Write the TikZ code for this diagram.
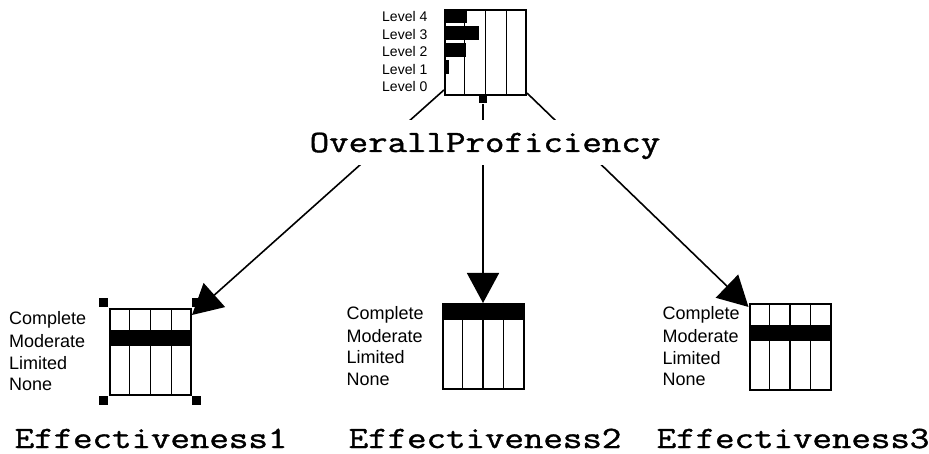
\documentclass[tikz,border=0pt]{standalone}
\usepackage{fontspec}
\setmainfont{Liberation Sans}
\newfontfamily\titlefont{Latin Modern Mono}[FakeBold=1.2]
\usetikzlibrary{arrows.meta,calc,positioning}
\newcommand{\nodeTitle}[1]{\scalebox{1.22}[1]{#1}}
\begin{document}
\begin{tikzpicture}[x=1pt,y=-1pt,>={Triangle[length=30pt,width=32pt]}]

    \tikzstyle{beliefBox}=[draw=black, line width=2pt, rectangle, inner sep=0pt, minimum width=81pt, minimum height=85pt]
    \tikzstyle{gridLine}=[line width=1.2pt]
    \tikzstyle{bar}=[fill=black]
    \tikzstyle{stateLabel}=[anchor=west, inner sep=0pt, font=\fontsize{18}{18}\selectfont]
    \tikzstyle{levelLabel}=[anchor=west, inner sep=0pt, font=\fontsize{14}{14}\selectfont]
    \tikzstyle{nodeName}=[anchor=base, inner sep=0pt, font=\fontsize{31}{31}\selectfont\titlefont]
    \tikzstyle{handle}=[fill=black, inner sep=0pt, minimum size=9pt]
    \tikzstyle{link}=[<-, line width=1.6pt]

    \useasboundingbox (0,0) rectangle (929,454);

    % Belief boxes
    \node at (485.5,53) [beliefBox] (Prof) {};
    \node at (483,100) [fill=black, inner sep=0pt, minimum width=8pt, minimum height=7pt] (ProfOut) {};
    \node at (150.5,352) [beliefBox] (EffA) {};
    \node at (483,346.5) [beliefBox] (EffB) {};
    \node at (790,347) [beliefBox] (EffC) {};

    % Grid lines
    \foreach \b in {Prof,EffA,EffB,EffC}
        \foreach \f in {0.25,0.5,0.75}
            \draw [gridLine] ($(\b.north west)!\f!(\b.north east)$) -- ($(\b.south west)!\f!(\b.south east)$);

    % Bars
    \foreach \w [count=\i from 0] in {23,35,22,5}
        \fill [bar] ($(Prof.north west)+(0,17*\i)$) rectangle ++(\w,14);
    \fill [bar] ($(EffA.north west)+(0,21.5)$) rectangle ++(81,16);
    \fill [bar] (EffB.north west) rectangle ++(81,17);
    \fill [bar] ($(EffC.north west)+(0,21.5)$) rectangle ++(81,16);

    % State labels
    \foreach \s [count=\i from 0] in {4,3,2,1,0}
        \node [levelLabel] (Lvl\s) at ($(Prof.north west)+(-62,7+17.5*\i)$) {Level \s};
    \foreach \b/\off in {EffA/100,EffB/95,EffC/86}
        \foreach \s [count=\i from 0] in {Complete,Moderate,Limited,None}
            \node [stateLabel] (\b-\s) at ($(\b.north west)+(-\off,11.5+21.5*\i)$) {\s};

    % Selection handles
    \node [handle, anchor=south east] (hNW) at ($(EffA.north west)+(-1,-1)$) {};
    \node [handle, anchor=south west] (hNE) at ($(EffA.north east)+(0,-1)$) {};
    \node [handle, anchor=north east] (hSW) at ($(EffA.south west)+(-1,0.5)$) {};
    \node [handle, anchor=north west] (hSE) at ($(EffA.south east)+(0,0.5)$) {};

    % Links
    \draw [link] (EffA) -- (Prof);
    \draw [link] (EffB) -- (ProfOut);
    \draw [link] (EffC) -- (Prof);

    % Names
    \node [nodeName, fill=white, text height=32pt, text depth=13pt] (ProfName) at (485,152) {\nodeTitle{OverallProficiency}};
    \node [nodeName] (EffAName) at (151,448) {\nodeTitle{Effectiveness1}};
    \node [nodeName] (EffBName) at (485,448) {\nodeTitle{Effectiveness2}};
    \node [nodeName] (EffCName) at (793,448) {\nodeTitle{Effectiveness3}};
\end{tikzpicture}
\end{document}
